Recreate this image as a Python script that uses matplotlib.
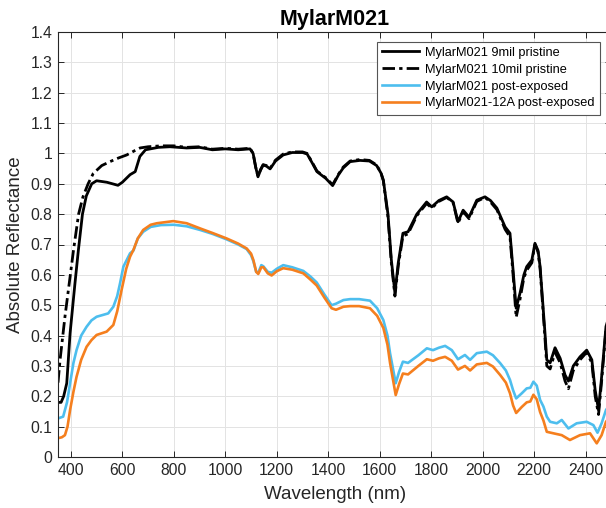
import matplotlib
matplotlib.use("Agg")
import matplotlib.pyplot as plt

plt.rcParams['font.family'] = ['Liberation Sans', 'DejaVu Sans']

# ---- data ----
wl_9mil = [350, 362, 372, 384, 397, 416, 429, 445, 460, 481, 500, 540, 583, 600, 630, 650, 668, 690,
           740, 785, 850, 900, 950, 1000, 1050, 1096, 1108, 1118, 1127, 1137, 1147, 1160, 1174, 1195,
           1225, 1260, 1300, 1318, 1340, 1356, 1390, 1417, 1440, 1458, 1485, 1523, 1560, 1588, 1605,
           1614, 1632, 1645, 1659, 1672, 1690, 1710, 1744, 1782, 1802, 1830, 1860, 1885, 1904, 1924,
           1947, 1977, 2009, 2030, 2055, 2087, 2106, 2118, 2130, 2145, 2160, 2171, 2191, 2203, 2215,
           2223, 2242, 2249, 2262, 2281, 2301, 2320, 2333, 2352, 2378, 2404, 2424, 2437, 2450, 2462,
           2479, 2500]
r_9mil = [0.18, 0.18, 0.20, 0.243, 0.408, 0.573, 0.68, 0.80, 0.86, 0.90, 0.91, 0.905, 0.895, 0.905,
          0.93, 0.94, 0.99, 1.012, 1.02, 1.022, 1.018, 1.02, 1.012, 1.015, 1.012, 1.015, 1.0, 0.955,
          0.923, 0.945, 0.962, 0.958, 0.949, 0.975, 0.995, 1.003, 1.003, 0.998, 0.965, 0.94, 0.918,
          0.894, 0.93, 0.952, 0.973, 0.977, 0.975, 0.96, 0.935, 0.912, 0.80, 0.65, 0.54, 0.64, 0.737,
          0.742, 0.80, 0.84, 0.824, 0.845, 0.857, 0.84, 0.775, 0.813, 0.79, 0.846, 0.857, 0.845, 0.82,
          0.758, 0.737, 0.616, 0.49, 0.54, 0.60, 0.627, 0.649, 0.704, 0.68, 0.627, 0.408, 0.32, 0.31,
          0.36, 0.325, 0.27, 0.25, 0.30, 0.33, 0.352, 0.32, 0.22, 0.155, 0.264, 0.43, 0.49]

wl_10mil = [350, 358, 377, 397, 410, 430, 447, 467, 487, 520, 552, 585, 617, 650, 669, 700, 750, 800,
            850, 900, 950, 1000, 1050, 1096, 1108, 1118, 1127, 1137, 1147, 1160, 1174, 1195, 1225,
            1260, 1300, 1318, 1340, 1356, 1390, 1417, 1440, 1458, 1485, 1523, 1560, 1588, 1605, 1614,
            1632, 1645, 1659, 1672, 1690, 1710, 1744, 1782, 1802, 1830, 1860, 1885, 1904, 1924, 1947,
            1977, 2009, 2030, 2055, 2087, 2106, 2118, 2130, 2145, 2160, 2171, 2191, 2203, 2215, 2223,
            2242, 2249, 2262, 2281, 2301, 2320, 2333, 2352, 2378, 2404, 2424, 2437, 2450, 2462, 2479,
            2500]
r_10mil = [0.245, 0.32, 0.462, 0.594, 0.68, 0.80, 0.857, 0.90, 0.934, 0.96, 0.973, 0.985, 0.995, 1.01,
           1.018, 1.022, 1.025, 1.025, 1.02, 1.022, 1.014, 1.017, 1.014, 1.017, 1.0, 0.955, 0.925,
           0.947, 0.963, 0.96, 0.951, 0.978, 0.998, 1.005, 1.005, 1.0, 0.967, 0.942, 0.92, 0.897,
           0.932, 0.955, 0.975, 0.98, 0.977, 0.962, 0.935, 0.91, 0.79, 0.64, 0.53, 0.63, 0.728, 0.735,
           0.795, 0.835, 0.82, 0.842, 0.855, 0.838, 0.77, 0.808, 0.785, 0.842, 0.855, 0.84, 0.815,
           0.75, 0.725, 0.6, 0.46, 0.52, 0.59, 0.615, 0.64, 0.7, 0.675, 0.62, 0.39, 0.30, 0.29, 0.345,
           0.31, 0.25, 0.225, 0.285, 0.32, 0.345, 0.31, 0.2, 0.14, 0.25, 0.42, 0.48]

wl_post = [350, 370, 385, 397, 410, 422, 440, 461, 480, 500, 545, 565, 580, 591, 604, 630, 643, 660,
           681, 710, 750, 800, 850, 902, 950, 1005, 1050, 1083, 1100, 1109, 1120, 1128, 1140, 1148,
           1165, 1180, 1200, 1225, 1260, 1303, 1330, 1355, 1385, 1413, 1430, 1459, 1485, 1520, 1562,
           1590, 1614, 1630, 1640, 1662, 1675, 1690, 1710, 1750, 1783, 1807, 1830, 1854, 1880, 1904,
           1931, 1951, 1977, 2016, 2040, 2068, 2090, 2106, 2118, 2130, 2152, 2171, 2185, 2197, 2210,
           2223, 2236, 2249, 2262, 2288, 2307, 2333, 2365, 2404, 2430, 2446, 2462, 2479, 2500]
r_post = [0.127, 0.133, 0.18, 0.243, 0.31, 0.352, 0.40, 0.429, 0.45, 0.462, 0.473, 0.495, 0.53, 0.572,
          0.627, 0.671, 0.68, 0.72, 0.742, 0.758, 0.764, 0.765, 0.76, 0.748, 0.735, 0.717, 0.70, 0.685,
          0.665, 0.645, 0.61, 0.607, 0.632, 0.628, 0.61, 0.607, 0.62, 0.632, 0.625, 0.613, 0.595,
          0.575, 0.535, 0.50, 0.505, 0.517, 0.52, 0.52, 0.515, 0.49, 0.451, 0.40, 0.342, 0.243, 0.28,
          0.314, 0.31, 0.335, 0.358, 0.352, 0.36, 0.366, 0.352, 0.322, 0.336, 0.32, 0.342, 0.347,
          0.335, 0.309, 0.285, 0.254, 0.22, 0.193, 0.21, 0.226, 0.228, 0.248, 0.235, 0.188, 0.166,
          0.133, 0.116, 0.111, 0.122, 0.094, 0.111, 0.116, 0.105, 0.08, 0.111, 0.155, 0.18]

wl_12a = [350, 365, 377, 387, 397, 410, 422, 440, 461, 480, 500, 539, 565, 580, 597, 615, 630, 643,
          660, 681, 710, 734, 798, 850, 902, 950, 1005, 1050, 1083, 1100, 1109, 1120, 1128, 1140,
          1148, 1165, 1180, 1200, 1225, 1260, 1303, 1330, 1355, 1385, 1413, 1430, 1459, 1485, 1520,
          1562, 1590, 1614, 1630, 1640, 1662, 1675, 1690, 1710, 1750, 1783, 1807, 1830, 1854, 1880,
          1904, 1931, 1951, 1977, 2016, 2040, 2068, 2090, 2106, 2118, 2130, 2152, 2171, 2185, 2197,
          2210, 2223, 2236, 2249, 2275, 2307, 2339, 2378, 2417, 2443, 2462, 2479, 2500]
r_12a = [0.062, 0.065, 0.072, 0.10, 0.155, 0.215, 0.264, 0.32, 0.363, 0.385, 0.402, 0.413, 0.435,
         0.48, 0.55, 0.62, 0.66, 0.682, 0.72, 0.748, 0.765, 0.77, 0.777, 0.77, 0.753, 0.738, 0.72,
         0.703, 0.687, 0.67, 0.649, 0.61, 0.603, 0.625, 0.625, 0.605, 0.598, 0.612, 0.622, 0.617,
         0.605, 0.585, 0.565, 0.525, 0.49, 0.485, 0.495, 0.497, 0.497, 0.49, 0.465, 0.425, 0.37,
         0.31, 0.204, 0.24, 0.275, 0.272, 0.30, 0.322, 0.317, 0.325, 0.33, 0.317, 0.288, 0.30, 0.285,
         0.305, 0.31, 0.298, 0.27, 0.245, 0.21, 0.17, 0.145, 0.165, 0.18, 0.183, 0.205, 0.19, 0.148,
         0.12, 0.083, 0.078, 0.072, 0.056, 0.072, 0.078, 0.045, 0.072, 0.116, 0.14]

labels = ['MylarM021 9mil pristine', 'MylarM021 10mil pristine',
          'MylarM021 post-exposed', 'MylarM021-12A post-exposed']
x_ticks = list(range(400, 2401, 200))
y_ticks = [round(0.1 * i, 1) for i in range(15)]

# ---- figure ----
fig = plt.figure(figsize=(6.06, 5.08), dpi=100)
ax = fig.add_axes([58 / 606, 51 / 508, 553.4 / 606, 425 / 508])

ax.plot(wl_9mil, r_9mil, color='black', lw=2.0, label=labels[0])
ax.plot(wl_10mil, r_10mil, color='black', lw=2.0, linestyle=(0, (4.5, 1.5, 1.2, 1.5)), label=labels[1])
ax.plot(wl_post, r_post, color='#4DBEEE', lw=1.9, label=labels[2])
ax.plot(wl_12a, r_12a, color='#F57F1E', lw=1.9, label=labels[3])

ax.set_xlim(350, 2500)
ax.set_ylim(0, 1.4)
ax.set_xticks(x_ticks)
ax.set_yticks(y_ticks)
ax.set_yticklabels([f'{v:g}' for v in y_ticks])
ax.grid(True, color='#e3e3e3', lw=0.7)
ax.set_axisbelow(True)
ax.tick_params(direction='in', length=4, width=0.7, top=True, right=True,
               labelsize=11.3, colors='#262626', pad=4)
for s in ax.spines.values():
    s.set_color('#262626')
    s.set_linewidth(0.8)

ax.set_xlabel('Wavelength (nm)', fontsize=13.5, color='#262626', labelpad=6)
ax.set_ylabel('Absolute Reflectance', fontsize=13.5, color='#262626', labelpad=5)
ax.set_title('MylarM021', fontsize=15.5, fontweight='bold', pad=5)

leg = ax.legend(loc='upper right', bbox_to_anchor=(0.979, 0.977), fontsize=9.2,
                fancybox=False, edgecolor='#555555', framealpha=1,
                handlelength=2.9, handletextpad=0.5, labelspacing=0.38, borderpad=0.4,
                borderaxespad=0)
leg.get_frame().set_linewidth(0.8)

fig.savefig('out.png', dpi=100)
